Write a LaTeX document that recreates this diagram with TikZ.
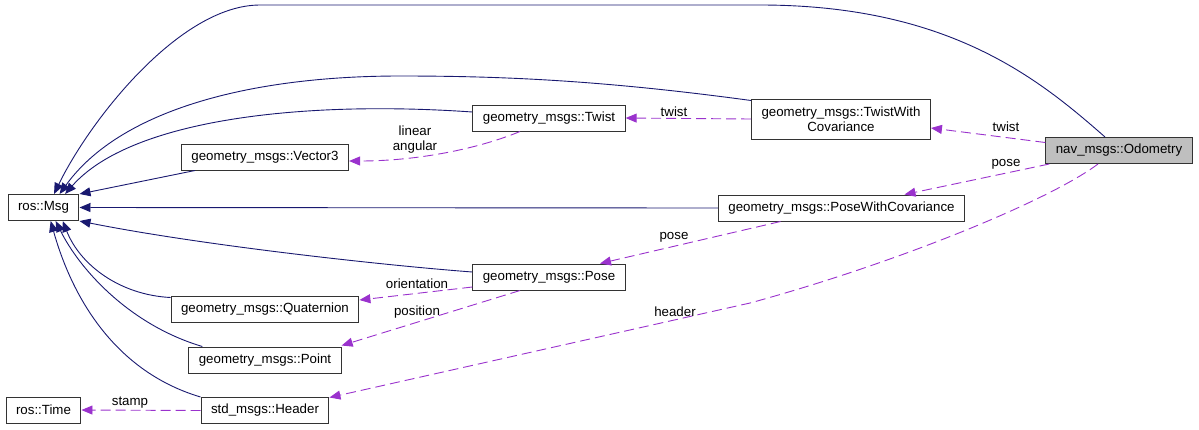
\documentclass[tikz,border=0pt]{standalone}
\usepackage{fontspec}
\setmainfont{Liberation Sans}
\usetikzlibrary{positioning,arrows.meta,calc}
\definecolor{inhblue}{RGB}{25,25,112}
\definecolor{usepurple}{RGB}{154,50,205}

\begin{document}
\begin{tikzpicture}[
    x=1pt, y=-1pt,
    font=\fontsize{13.3}{15}\selectfont,
    cls/.style={draw=black!80, line width=1pt, fill=white, align=center,
                minimum height=26pt, inner xsep=10pt, inner ysep=2pt},
    inh/.style={->, >={Triangle[length=11pt,width=9pt]}, inhblue, line width=0.9pt},
    mem/.style={->, >={Triangle[length=11pt,width=9pt]}, usepurple, line width=0.9pt,
                dash pattern=on 10pt off 5pt},
    lbl/.style={text=black, inner sep=1pt, align=center},
  ]
  \useasboundingbox (0,0) rectangle (1199,429);

  % --- Classes ---
  \node[cls] (msg) at (43.5,207.5) {ros::Msg};
  \node[cls] (rtime) at (43.5,410) {ros::Time};
  \node[cls] (vec3) at (265,157) {geometry\_msgs::Vector3};
  \node[cls] (twist) at (549,118) {geometry\_msgs::Twist};
  \node[cls, minimum height=40pt] (twcov) at (841,119)
    {geometry\_msgs::TwistWith\\Covariance};
  \node[cls, fill=black!25] (odom) at (1119,150.5) {nav\_msgs::Odometry};
  \node[cls] (pcov) at (841.5,208) {geometry\_msgs::PoseWithCovariance};
  \node[cls] (pose) at (549,277) {geometry\_msgs::Pose};
  \node[cls] (quat) at (265,309) {geometry\_msgs::Quaternion};
  \node[cls] (point) at (265,360) {geometry\_msgs::Point};
  \node[cls] (hdr) at (265,410.5) {std\_msgs::Header};

  % --- Inheritance (solid, into ros::Msg) ---
  \draw[inh] ($(odom.north)+(-14,0)$) .. controls (1040,80) and (950,5) .. (760,5)
    -- (260,5) .. controls (180,5) and (90,120) .. (msg.52);
  \draw[inh] ($(twcov.north west)+(0,2)$) .. controls (600,80) and (500,76) .. (400,76)
    .. controls (250,76) and (120,110) .. (msg.40);
  \draw[inh] ($(twist.west)+(0,-6)$) .. controls (300,100) and (130,120) .. (msg.32);
  \draw[inh] ($(vec3.south west)+(14,0)$) -- (msg.north east);
  \draw[inh] (pcov.west) -- (msg.east);
  \draw[inh] ($(pose.west)+(0,-5)$) .. controls (380,265) and (200,245) .. (msg.south east);
  \draw[inh] ($(quat.north west)+(0,2)$) .. controls (120,295) and (80,265) .. (msg.-35);
  \draw[inh] ($(point.north west)+(14,0)$) .. controls (130,325) and (80,270) .. (msg.-48);
  \draw[inh] (hdr.north west) .. controls (110,370) and (70,290) .. (msg.-62);

  % --- Members (dashed) ---
  \draw[mem] (hdr.west) -- (rtime.east);
  \draw[mem] ($(twist.south)+(-29,0)$) .. controls (480,148) and (420,161) .. ($(vec3.east)+(0,4)$);
  \draw[mem] (twcov.west) -- (twist.east);
  \draw[mem] ($(odom.west)+(0,-8)$) -- ($(twcov.east)+(0,9)$);
  \draw[mem] ($(odom.south west)+(4,0)$) -- ($(pcov.north)+(63,0)$);
  \draw[mem] ($(pcov.south)+(-61,0)$) -- ($(pose.north)+(51,0)$);
  \draw[mem] ($(pose.west)+(0,10)$) -- ($(quat.east)+(0,-9)$);
  \draw[mem] ($(pose.south)+(-29,0)$) -- ($(point.north east)+(0,-1)$);
  \draw[mem] ($(odom.south)+(-21,0)$) .. controls (1050,200) and (900,262) .. (750,303)
    -- ($(hdr.east)+(0,-13)$);

  % --- Edge labels ---
  \node[lbl] (lstamp) at (130,403) {stamp};
  \node[lbl] (llin) at (415,140) {linear\\angular};
  \node[lbl] (ltwa) at (674,112) {twist};
  \node[lbl] (ltwb) at (1006,127) {twist};
  \node[lbl] (lposa) at (1006,164) {pose};
  \node[lbl] (lposb) at (674,237) {pose};
  \node[lbl] (lori) at (417,284) {orientation};
  \node[lbl] (lpos) at (417,312) {position};
  \node[lbl] (lhdr) at (675,312) {header};
\end{tikzpicture}
\end{document}
